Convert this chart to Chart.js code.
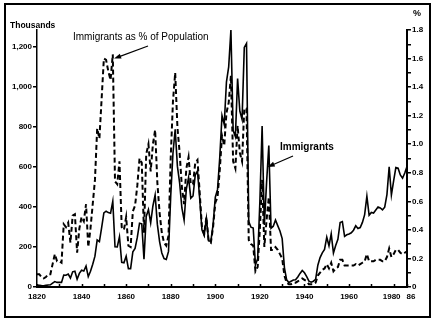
<!DOCTYPE html>
<html lang="en">
<head>
<meta charset="UTF-8">
<title>Immigration to the United States, 1820-1986</title>
<script src="https://cdn.jsdelivr.net/npm/chart.js"></script>
<style>
  body { margin: 0; background: #fff; }
  .chart-box { position: relative; width: 437px; height: 326px; }
</style>
</head>
<body>
<div class="chart-box"><canvas id="immChart"></canvas></div>
<script>
// Immigrants admitted per year, in thousands (one row per decade, from 1820)
const immigrants = [
  8, 9, 7, 6, 8, 10, 11, 19, 27, 23,
  23, 23, 60, 59, 65, 45, 76, 79, 39, 68,
  84, 80, 105, 52, 79, 114, 154, 235, 227, 297,
  370, 379, 372, 369, 428, 201, 200, 251, 123, 121,
  154, 92, 92, 176, 193, 248, 319, 316, 139, 353,
  387, 321, 405, 460, 313, 227, 170, 142, 138, 178,
  457, 669, 789, 603, 519, 395, 334, 490, 547, 444,
  455, 560, 580, 440, 286, 259, 343, 231, 229, 312,
  449, 488, 649, 857, 813, 1026, 1101, 1285, 783, 752,
  1042, 879, 838, 1198, 1218, 327, 299, 295, 111, 141,
  430, 805, 310, 523, 707, 294, 304, 335, 307, 280,
  242, 97, 36, 23, 29, 35, 36, 50, 68, 83,
  71, 52, 29, 24, 29, 38, 109, 147, 171, 188,
  249, 206, 266, 170, 208, 238, 322, 327, 253, 261,
  265, 271, 284, 306, 292, 297, 323, 362, 454, 359,
  373, 370, 385, 400, 395, 386, 399, 462, 601, 460,
  531, 597, 594, 560, 544, 570, 602
];

// Immigrants as a percent of the population, same years
const immigrantPct = [
  0.09, 0.09, 0.07, 0.06, 0.07, 0.09, 0.09, 0.16, 0.23, 0.18,
  0.18, 0.17, 0.44, 0.42, 0.45, 0.31, 0.50, 0.51, 0.24, 0.41,
  0.49, 0.46, 0.58, 0.28, 0.41, 0.58, 0.75, 1.11, 1.04, 1.32,
  1.60, 1.59, 1.51, 1.45, 1.63, 0.74, 0.72, 0.88, 0.42, 0.40,
  0.49, 0.29, 0.28, 0.53, 0.57, 0.71, 0.90, 0.87, 0.38, 0.93,
  1.00, 0.81, 1.00, 1.10, 0.73, 0.52, 0.38, 0.31, 0.29, 0.36,
  0.91, 1.30, 1.50, 1.12, 0.94, 0.70, 0.58, 0.83, 0.91, 0.72,
  0.72, 0.87, 0.89, 0.66, 0.42, 0.37, 0.49, 0.32, 0.31, 0.42,
  0.59, 0.63, 0.82, 1.06, 0.99, 1.22, 1.29, 1.48, 0.88, 0.83,
  1.13, 0.94, 0.88, 1.25, 1.25, 0.33, 0.30, 0.29, 0.11, 0.14,
  0.41, 0.75, 0.28, 0.47, 0.63, 0.26, 0.26, 0.28, 0.26, 0.23,
  0.20, 0.08, 0.03, 0.02, 0.02, 0.03, 0.03, 0.04, 0.05, 0.06,
  0.05, 0.04, 0.02, 0.02, 0.02, 0.03, 0.08, 0.10, 0.12, 0.13,
  0.16, 0.13, 0.17, 0.11, 0.13, 0.14, 0.19, 0.19, 0.15, 0.15,
  0.15, 0.15, 0.15, 0.16, 0.15, 0.16, 0.17, 0.18, 0.23, 0.18,
  0.18, 0.18, 0.19, 0.19, 0.19, 0.18, 0.18, 0.21, 0.27, 0.21,
  0.23, 0.26, 0.26, 0.24, 0.23, 0.24, 0.25
];

const startYear = 1820;
const years = immigrants.map((_, i) => startYear + i);

const yearTicks = [1820, 1840, 1860, 1880, 1900, 1920, 1940, 1960, 1980, 1986];
const yearMinorTicks = [1830, 1850, 1870, 1890, 1910, 1930, 1950, 1970];
const thousandTicks = [0, 200, 400, 600, 800, 1000, 1200];
const pctTicks = [0, 0.1, 0.2, 0.3, 0.4, 0.5, 0.6, 0.7, 0.8, 0.9,
                  1.0, 1.1, 1.2, 1.3, 1.4, 1.5, 1.6, 1.7, 1.8];

const FONT = "'Liberation Sans', Arial, Helvetica, sans-serif";
const tickFont = { family: FONT, size: 8, weight: 'bold' };

// year labels; the last two are nudged apart with en spaces so they don't run together
function yearLabel(v) {
  if (v === 1986) return '\u2002\u200286';
  if (v === 1980) return '1980\u2002';
  return String(v);
}

// small filled arrow from (x1,y1) to the tip (x2,y2)
function arrow(ctx, x1, y1, x2, y2) {
  const a = Math.atan2(y2 - y1, x2 - x1);
  const len = 7, half = 2.6;
  ctx.beginPath();
  ctx.moveTo(x1, y1);
  ctx.lineTo(x2 - Math.cos(a) * len * 0.8, y2 - Math.sin(a) * len * 0.8);
  ctx.stroke();
  ctx.beginPath();
  ctx.moveTo(x2, y2);
  ctx.lineTo(x2 - Math.cos(a) * len + Math.sin(a) * half, y2 - Math.sin(a) * len - Math.cos(a) * half);
  ctx.lineTo(x2 - Math.cos(a) * len - Math.sin(a) * half, y2 - Math.sin(a) * len + Math.cos(a) * half);
  ctx.closePath();
  ctx.fill();
}

const decorations = {
  id: 'decorations',
  beforeDraw(chart) {
    const ctx = chart.ctx;
    ctx.save();
    ctx.fillStyle = '#fff';
    ctx.fillRect(0, 0, chart.width, chart.height);
    ctx.restore();
  },
  afterDraw(chart) {
    const { ctx, chartArea, scales: { x, y, y1 } } = chart;
    ctx.save();
    ctx.strokeStyle = '#000';
    ctx.fillStyle = '#000';

    // outer box
    ctx.lineWidth = 2;
    ctx.strokeRect(5, 4, 425, 313);

    // tick marks pointing up from the year axis
    ctx.lineWidth = 1.5;
    ctx.beginPath();
    yearTicks.concat(yearMinorTicks).forEach(v => {
      const px = Math.round(x.getPixelForValue(v)) + 0.5;
      ctx.moveTo(px, chartArea.bottom);
      ctx.lineTo(px, chartArea.bottom - 3);
    });
    ctx.stroke();

    // axis units
    ctx.textBaseline = 'middle';
    ctx.textAlign = 'left';
    ctx.font = "bold 8.5px " + FONT;
    ctx.fillText('Thousands', 10, 26);
    ctx.textAlign = 'center';
    ctx.font = "bold 9px " + FONT;
    ctx.fillText('%', 417, 14);

    // callouts
    ctx.textAlign = 'left';
    ctx.font = "10px " + FONT;
    ctx.fillText('Immigrants as % of Population', 73, 37);
    ctx.font = "bold 10px " + FONT;
    ctx.fillText('Immigrants', 280, 147);

    ctx.lineWidth = 1.2;
    arrow(ctx, 148, 46, x.getPixelForValue(1854.6), y1.getPixelForValue(1.6));
    arrow(ctx, 293, 156, x.getPixelForValue(1923.5), y.getPixelForValue(600));
    ctx.restore();
  }
};

new Chart(document.getElementById('immChart'), {
  type: 'line',
  data: {
    datasets: [
      {
        label: 'Immigrants',
        data: years.map((yr, i) => ({ x: yr, y: immigrants[i] })),
        borderColor: '#000',
        borderWidth: 1.6,
        pointRadius: 0,
        tension: 0,
        yAxisID: 'y'
      },
      {
        label: 'Immigrants as % of Population',
        data: years.map((yr, i) => ({ x: yr, y: immigrantPct[i] })),
        borderColor: '#000',
        borderWidth: 2,
        borderDash: [5, 3],
        pointRadius: 0,
        tension: 0,
        yAxisID: 'y1'
      }
    ]
  },
  options: {
    responsive: true,
    maintainAspectRatio: false,
    animation: false,
    layout: { padding: { top: 30, left: 0, right: 0, bottom: 0 } },
    plugins: { legend: { display: false }, tooltip: { enabled: false } },
    scales: {
      x: {
        type: 'linear',
        min: 1820,
        max: 1986,
        afterBuildTicks: s => { s.ticks = yearTicks.map(v => ({ value: v })); },
        afterFit: s => { s.height = 39; },
        grid: { display: false, drawTicks: false },
        border: { display: true, color: '#000', width: 2 },
        ticks: {
          autoSkip: false, maxRotation: 0, padding: 5, color: '#000', font: tickFont,
          callback: yearLabel
        }
      },
      y: {
        position: 'left',
        min: 0,
        max: 1285,
        afterBuildTicks: s => { s.ticks = thousandTicks.map(v => ({ value: v })); },
        afterFit: s => { s.width = 37; },
        grid: { display: true, drawOnChartArea: false, drawTicks: true, tickLength: 4, color: '#000', tickColor: '#000', lineWidth: 1.5 },
        border: { display: true, color: '#000', width: 1.5 },
        ticks: {
          padding: 1, color: '#000', font: tickFont,
          callback: v => v.toLocaleString('en-US')
        }
      },
      y1: {
        position: 'right',
        min: 0,
        max: 1.8,
        afterBuildTicks: s => { s.ticks = pctTicks.map(v => ({ value: v })); },
        afterFit: s => { s.width = 30; },
        grid: { display: true, drawOnChartArea: false, drawTicks: true, tickLength: 4, color: '#000', tickColor: '#000', lineWidth: 1.5 },
        border: { display: true, color: '#000', width: 2 },
        ticks: {
          padding: 1, color: '#000', font: tickFont,
          callback: v => {
            const tenths = Math.round(v * 10);
            if (tenths % 2 !== 0) return '';
            return tenths === 0 ? '0' : v.toFixed(1);
          }
        }
      }
    }
  },
  plugins: [decorations]
});
</script>
</body>
</html>
